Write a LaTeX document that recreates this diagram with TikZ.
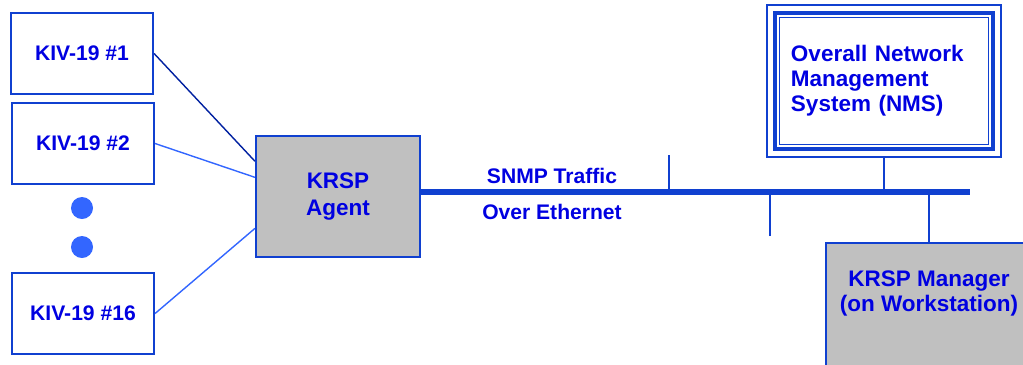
\documentclass[tikz,border=0pt]{standalone}
\usepackage{fontspec}
\setmainfont{Liberation Sans}
\usetikzlibrary{positioning}
\definecolor{txtblue}{RGB}{0,0,225}
\definecolor{lineblue}{RGB}{16,64,208}
\definecolor{lightblue}{RGB}{51,102,255}
\definecolor{darkblue}{RGB}{0,32,160}
\definecolor{boxgray}{RGB}{192,192,192}
\tikzset{
  lbl/.style={text=txtblue, font=\bfseries\fontsize{15}{18}\selectfont},
  biglbl/.style={text=txtblue, font=\bfseries\fontsize{16}{17.8}\selectfont},
  kivbox/.style={lbl, draw=lineblue, line width=1.5pt, fill=white,
    minimum width=3.55cm, minimum height=2.025cm},
  graybox/.style={draw=lineblue, line width=1.5pt, fill=boxgray},
  dotnode/.style={circle, fill=lightblue, minimum size=0.55cm, inner sep=0pt},
  link/.style={lightblue, line width=1pt},
  tick/.style={lineblue, line width=1.3pt}
}

\begin{document}
\begin{tikzpicture}[x=0.025cm, y=-0.025cm]
\useasboundingbox (0,0) rectangle (1023,364);
\clip (0,0) rectangle (1023,364);
% boxes on the left
\node (kiv1) at (82,53.5) [kivbox] {KIV-19 \#1};
\node (kiv2) at (83,143.5) [kivbox] {KIV-19 \#2};
\node (kiv16) at (83,313.5) [kivbox] {KIV-19 \#16};
\node (dot1) at (82,208) [dotnode] {};
\node (dot2) at (82,247) [dotnode] {};
% agent
\node (agent) at (338,196.5) [graybox, biglbl, align=center,
  minimum width=4.1cm, minimum height=3.025cm,
  font=\bfseries\fontsize{16}{19.2}\selectfont] {KRSP\\Agent};
\draw [darkblue, line width=1pt] (kiv1.east) -- (agent.157.8);
\draw [link] (kiv2.east) -- (agent.167.3);
\draw [link] (kiv16.east) -- (agent.201.6);
% bus
\coordinate (busR) at (970,192);
\draw [lineblue, line width=3.6pt] (agent.east |- busR) -- (busR);
\node (snmp) at (552,176) [lbl] {SNMP Traffic};
\node (eth) at (552,212) [lbl] {Over Ethernet};
\coordinate (t1) at (669,155);
\coordinate (t2) at (770,236);
\draw [tick] (t1) -- (t1 |- busR);
\draw [tick] (t2) -- (t2 |- busR);
% NMS
\node (nms) at (884,81) [biglbl, draw=lineblue, line width=3.4pt, align=left,
  text width=4.65cm, inner xsep=0.4cm, minimum height=3.4cm]
  {\raisebox{-2.5pt}{\parbox{4.65cm}{Overall Network\\Management\\System (NMS)}}};
\draw [lineblue, line width=1.5pt] ([shift={(-6,-6)}]nms.north west) rectangle ([shift={(6,6)}]nms.south east);
\draw [lineblue, line width=1.2pt] ([shift={(7,7)}]nms.north west) rectangle ([shift={(-7,-7)}]nms.south east);
\draw [tick] ([yshift=-0.15cm]nms.south) -- (nms.south |- busR);
% manager
\node (mgr) at (929,306.5) [graybox, minimum width=5.15cm, minimum height=3.175cm] {};
\node (mgrtxt) at (929,293) [biglbl, align=center] {KRSP Manager\\(on Workstation)};
\draw [tick] (mgr.north) -- (mgr.north |- busR);
\end{tikzpicture}
\end{document}
